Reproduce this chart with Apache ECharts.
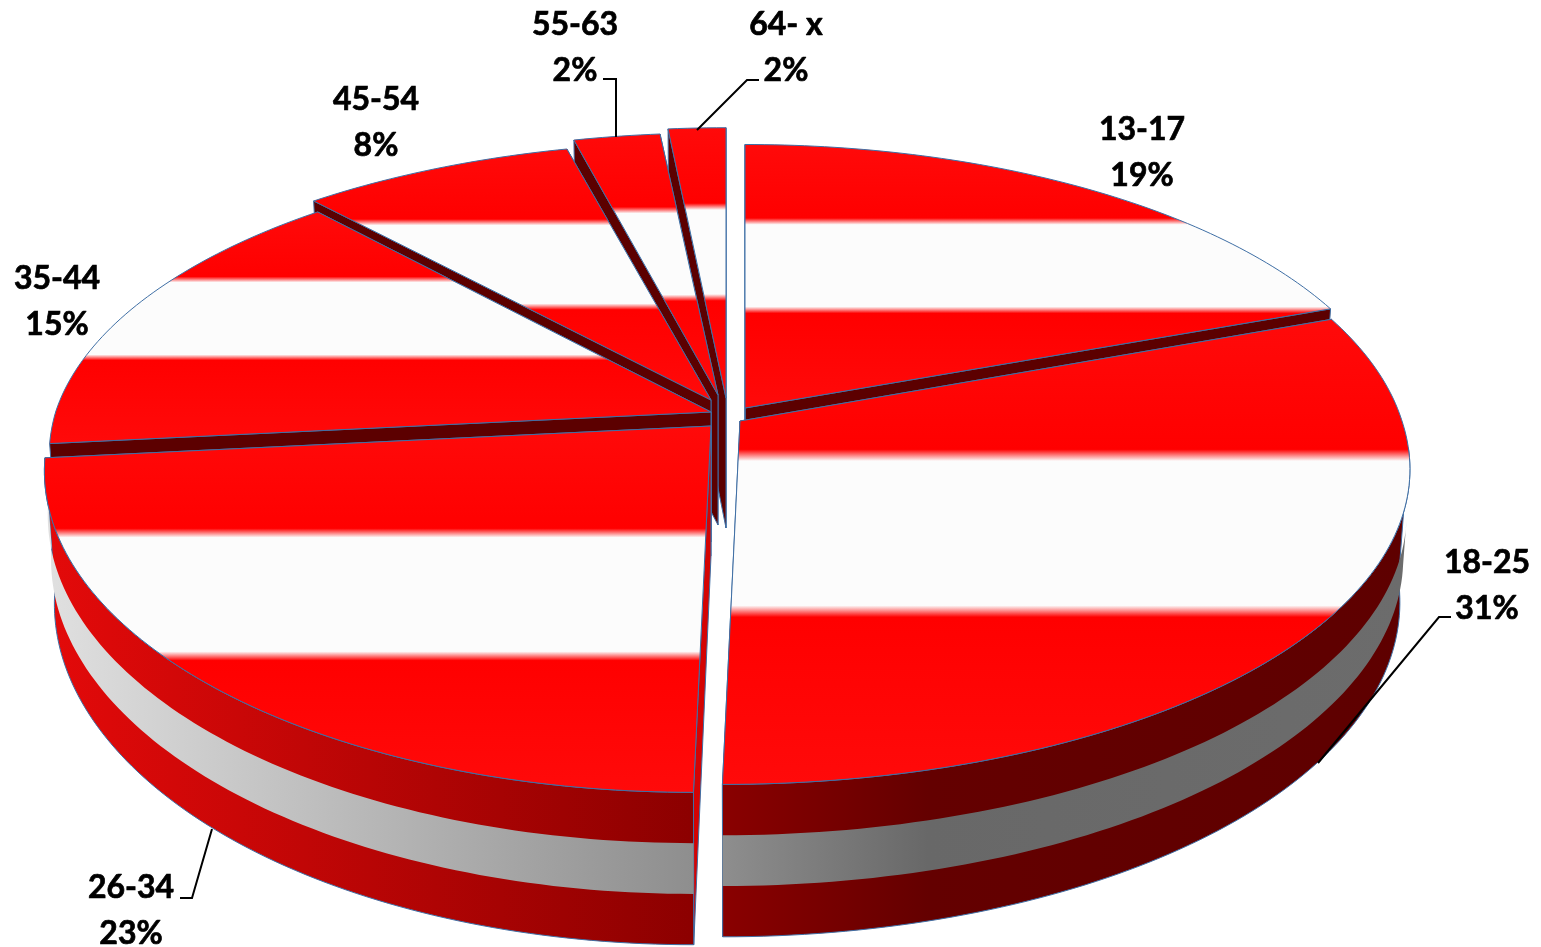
<!DOCTYPE html>
<html>
<head>
<meta charset="utf-8">
<style>html,body{margin:0;padding:0;background:#fff}#c{width:1541px;height:947px}</style>
<script src="https://cdn.jsdelivr.net/npm/echarts@6/dist/echarts.min.js"></script>
</head>
<body>
<div id="c"></div>
<script>
// ---- data ----
const categories = ['13-17', '18-25', '26-34', '35-44', '45-54', '55-63', '64- x'];
const shares = [19.4, 30.6, 23.4, 15, 7.6, 2.4, 1.6];

// ---- layout & style ----
const CX = 725, CY = 418, RX = 662, RY = 310, PERSP = 0.147, SKEW = 15, BULGE = 20, DEPTH = 130, SHRINK = 0.015;
const WALL_FROM = 95 * Math.PI / 180, PALE_FROM = 100 * Math.PI / 180;
const drawOrder = [6, 5, 4, 3, 0, 2, 1];
const sliceShift = [[20, -10], [15, 3], [-14, 8], [-14, -6], [-14, -18], [-7, -23], [1, -20]];
// horizontal scale, far-side vertical scale, near-side vertical scale
const sliceScale = [[0.99, 0.975, 1], [1, 1, 1], [0.997, 1, 1.008], [0.99, 0.96, 1], [1, 0.955, 1], [1, 0.97, 1], [1, 1, 1]];
const labelAnchor = [[1142, 153], [1487, 586], [131, 911], [57, 302], [376, 123], [575, 48], [786, 48]];
const leaders = [null, [[1451, 617], [1439, 617], [1318, 763]], [[180, 898], [192, 898], [212, 829]], null, null,
  [[603, 79], [616, 79], [616, 137]], [[759, 80], [747, 80], [697, 130]]];
const RED = '#ff0a0a', WHITE = '#fcfcfc', EDGE = '#3f6fa5', DARK = '#5c0000';
const radialColor = [DARK, DARK, '#d40303', DARK, DARK, DARK, DARK];
const darkRed = [[0, '#8a0000'], [0.3, '#640000'], [1, '#5e0000']];
const darkGray = [[0, '#8e8e8e'], [0.3, '#686868'], [1, '#6c6c6c']];
const liteRed = [[0, '#e40a0a'], [1, '#8c0000']];
const liteGray = [[0, '#e0e0e0'], [1, '#8e8e8e']];

const hGrad = stops => ({ type: 'linear', x: 0, y: 0, x2: 1, y2: 0,
  colorStops: stops.map(s => ({ offset: s[0], color: s[1] })) });
const topFill = { type: 'linear', x: 0, y: 0, x2: 0, y2: 1, colorStops: [
  { offset: 0, color: RED }, { offset: 0.28, color: '#ff0000' }, { offset: 0.305, color: WHITE },
  { offset: 0.615, color: WHITE }, { offset: 0.64, color: '#ff0000' }, { offset: 1, color: RED }] };

const total = shares.reduce((a, b) => a + b, 0);
function sliceAngles(i) {
  let s = 0;
  for (let j = 0; j < i; j++) s += shares[j];
  return [s / total * 2 * Math.PI, (s + shares[i]) / total * 2 * Math.PI];
}
// ground-plane point (r, angle clockwise from far side) -> screen, t = depth 0..1
function project(i, r, a, t) {
  const X = r * Math.sin(a), Y = r * Math.cos(a), w = 1 + PERSP * Y;
  const [sx, sf, sn] = sliceScale[i];
  let x = sx * (RX * X + SKEW * Math.min(Y, 0)) / w + BULGE * Math.abs(X) * Math.max(-Y, 0);
  x *= (1 - SHRINK * t);
  const y = -RY * Y * (Y > 0 ? sf : sn) / w + DEPTH * t / w;
  return [CX + x + sliceShift[i][0], CY + y + sliceShift[i][1]];
}
function rim(i, a0, a1, t) {
  const n = Math.max(2, Math.ceil(Math.abs(a1 - a0) / (Math.PI / 180)));
  const pts = [];
  for (let k = 0; k <= n; k++) pts.push(project(i, 1, a0 + (a1 - a0) * k / n, t));
  return pts;
}
function band(i, a0, a1, t0, t1) {
  return rim(i, a0, a1, t0).concat(rim(i, a0, a1, t1).reverse());
}
function radial(i, a) {
  return [project(i, 0, a, 0), project(i, 1, a, 0), project(i, 1, a, 1), project(i, 0, a, 1)];
}

function renderItem(params, api) {
  const i = drawOrder[params.dataIndex];
  const val = api.value(0);
  const [a0, a1] = sliceAngles(i);
  const near = i === 1 || i === 2;
  const redS = i === 2 ? liteRed : darkRed, grayS = i === 2 ? liteGray : darkGray;
  const kids = [];
  const poly = (points, fill, stroke, lw) => kids.push({ type: 'polygon', shape: { points },
    style: { fill: fill || 'none', stroke: stroke || 'none', lineWidth: lw || 0 } });
  const radials = () => {
    poly(radial(i, a1), radialColor[i], EDGE, 1);
    poly(radial(i, a0), radialColor[i], EDGE, 1);
  };
  if (near) {
    radials();
    // outer wall: red body, pale middle band
    poly(band(i, Math.max(a0, WALL_FROM), a1, 0, 1), hGrad(redS), EDGE, 1);
    poly(band(i, Math.max(a0, PALE_FROM), a1, 1 / 3, 2 / 3), hGrad(grayS));
  } else {
    radials();
  }
  // top face
  const top = [project(i, 0, a0, 0)].concat(rim(i, a0, a1, 0));
  poly(top, topFill, EDGE, 1);
  // leader
  if (leaders[i]) kids.push({ type: 'polyline', shape: { points: leaders[i] },
    style: { fill: 'none', stroke: '#000', lineWidth: 2 } });
  // label
  kids.push({ type: 'text', style: {
    x: labelAnchor[i][0], y: labelAnchor[i][1],
    text: categories[i] + '\n' + Math.round(val) + '%',
    fill: '#000', stroke: '#000', lineWidth: 0.7, font: 'bold 32px Lato', lineHeight: 46,
    align: 'center', verticalAlign: 'middle' } });
  return { type: 'group', children: kids };
}

const chart = echarts.init(document.getElementById('c'), null, { renderer: 'canvas' });
chart.setOption({
  animation: false,
  backgroundColor: '#fff',
  series: [{
    type: 'custom',
    coordinateSystem: 'none',
    renderItem,
    silent: true,
    data: drawOrder.map(i => ({ name: categories[i], value: [shares[i]] }))
  }]
});
</script>
</body>
</html>
